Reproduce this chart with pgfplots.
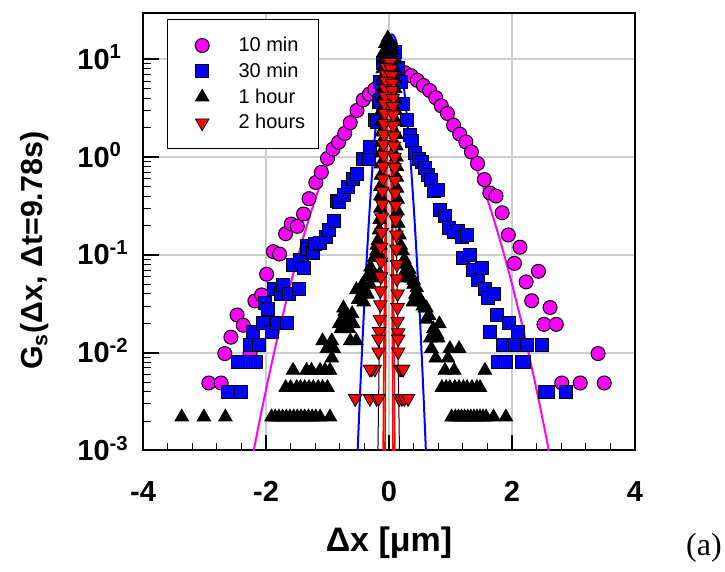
\documentclass[border=0pt]{standalone}
\usepackage{pgfplots}
\pgfplotsset{compat=1.18}
\usepackage{fontspec}
\setmainfont{Liberation Sans}
\newfontfamily\serifpanel{Liberation Serif}

\definecolor{mag}{RGB}{255,0,255}
\definecolor{blu}{RGB}{0,0,255}
\definecolor{rd}{RGB}{255,0,0}
\definecolor{gridgray}{RGB}{205,205,205}

\begin{document}
\begin{tikzpicture}
\useasboundingbox (0,0) rectangle (362.5pt,286pt);
\begin{axis}[
  at={(71.5pt,60.75pt)}, anchor=south west,
  scale only axis, width=246pt, height=218.9pt,
  xmin=-4, xmax=4,
  ymode=log, ymin=1e-3, ymax=30,
  xtick={-4,-2,0,2,4},
  xticklabels={-4,-2,0,2,4},
  minor x tick num=4,
  ytick={1e-3,1e-2,1e-1,1,10},
  yticklabels={10\textsuperscript{-3},10\textsuperscript{-2},10\textsuperscript{-1},10\textsuperscript{0},10\textsuperscript{1}},
  tick pos=left, tick align=inside,
  major tick length=8pt, minor tick length=4pt,
  every major tick/.append style={line width=1pt, black},
  every minor tick/.append style={line width=0.5pt, black},
  axis line style={line width=1pt},
  grid=major,
  major grid style={line width=1pt, color=gridgray},
  xticklabel style={font=\fontsize{14.5}{17}\selectfont\bfseries, anchor=base, yshift=-25.5pt},
  yticklabel style={font=\fontsize{14.5}{17}\selectfont\bfseries, anchor=base west, inner sep=0pt, xshift=-33pt, yshift=-5pt},
  xlabel={Δx [μm]},
  ylabel={G\textsubscript{s}(Δx, Δt=9.78s)},
  xlabel style={font=\fontsize{17}{20}\selectfont\bfseries, at={(axis description cs:0.5,-0.2296)}, anchor=base},
  ylabel style={font=\fontsize{15.2}{18}\selectfont\bfseries, at={(axis description cs:-0.2033,0.456)}, anchor=base, rotate=0},
  legend cell align=left,
  legend style={at={(axis description cs:0.0488,0.9856)}, anchor=north west,
    draw=black, line width=0.5pt, fill=white,
    font=\fontsize{10}{12}\selectfont,
    inner xsep=5pt, inner ysep=8pt, row sep=2.9pt,
    nodes={inner xsep=1.7pt, inner ysep=0pt, text height=8pt, text depth=2pt}},
  legend image code/.code={
    \path[draw=none] (0pt,-4pt) rectangle (28.8pt,4pt);
    \draw[#1] plot coordinates {(12.35pt,0pt)};
  },
]

% 10 min
\addplot[only marks, mark=*, mark size=3.5pt, mark options={fill=mag, draw=black, line width=0.5pt}]
coordinates {
(-2.93,0.0049)(-2.73,0.0049)(-2.67,0.0098)(-2.57,0.0144)(-2.47,0.0243)(-2.37,0.0191)
(-2.26,0.0098)(-2.18,0.0338)(-2.07,0.039)(-1.99,0.0635)(-1.88,0.108)(-1.78,0.102)
(-1.68,0.165)(-1.59,0.207)(-1.49,0.196)(-1.39,0.262)(-1.30,0.376)(-1.19,0.55)
(-1.10,0.70)(-1.00,0.97)(-0.91,1.21)(-0.82,1.42)(-0.72,1.75)(-0.63,2.25)(-0.52,3.0)
(-0.42,3.85)(-0.32,4.4)(-0.23,4.95)(-0.14,5.8)(-0.05,6.4)(0.05,6.9)(0.15,7.4)
(0.26,7.3)(0.36,6.8)(0.46,6.1)(0.56,5.4)(0.66,4.8)(0.76,4.05)(0.85,3.35)(0.95,2.8)
(1.05,2.12)(1.15,1.72)(1.25,1.43)(1.34,1.13)(1.44,0.86)(1.55,0.59)(1.64,0.43)
(1.74,0.40)(1.84,0.27)(1.94,0.16)(2.04,0.082)(2.13,0.12)(2.23,0.053)(2.32,0.034)
(2.43,0.068)(2.52,0.0195)(2.62,0.029)(2.72,0.0195)(2.81,0.0049)(3.11,0.0049)
(3.40,0.0098)(3.50,0.0049)
};
\addlegendentry{10 min}

% 30 min
\addplot[only marks, mark=square*, mark size=3.25pt, mark options={fill=blu, draw=black, line width=0.5pt}]
coordinates {
(-2.61,0.0040)(-2.46,0.0081)(-2.40,0.0040)(-2.30,0.0081)(-2.26,0.0121)(-2.21,0.0162)
(-2.16,0.0081)(-2.11,0.0121)(-2.05,0.0202)(-2.02,0.0324)(-1.96,0.0282)(-1.91,0.0162)
(-1.87,0.0445)(-1.82,0.0202)(-1.76,0.040)(-1.72,0.049)(-1.66,0.0202)(-1.62,0.040)
(-1.56,0.079)(-1.47,0.0445)(-1.45,0.088)(-1.42,0.085)(-1.38,0.073)(-1.33,0.124)
(-1.31,0.115)(-1.23,0.105)(-1.20,0.129)(-1.13,0.131)(-1.02,0.151)(-0.97,0.18)
(-0.89,0.224)(-0.85,0.359)(-0.81,0.345)(-0.73,0.41)(-0.66,0.49)(-0.58,0.60)
(-0.52,0.67)(-0.43,0.96)(-0.32,0.96)(-0.31,1.27)(-0.23,2.38)(-0.19,2.28)(-0.17,3.67)
(-0.15,3.8)(-0.14,5.9)(-0.12,4.8)(-0.09,9.1)(-0.05,10)(0.02,13)(0.10,12)(0.15,8.1)
(0.19,5.9)(0.23,3.5)(0.29,2.42)(0.34,1.67)(0.38,1.46)(0.42,1.09)(0.48,0.96)
(0.53,0.89)(0.58,0.78)(0.64,0.66)(0.69,0.58)(0.73,0.45)(0.79,0.46)(0.83,0.29)
(0.91,0.25)(0.98,0.19)(1.05,0.17)(1.13,0.177)(1.18,0.152)(1.21,0.094)(1.27,0.16)
(1.31,0.100)(1.36,0.070)(1.45,0.056)(1.51,0.073)(1.56,0.0445)(1.61,0.0366)
(1.65,0.0162)(1.70,0.040)(1.75,0.0243)(1.78,0.0081)(1.86,0.0121)(1.90,0.0081)
(1.95,0.0202)(2.05,0.0121)(2.09,0.0162)(2.16,0.0081)(2.20,0.0081)(2.24,0.0121)
(2.48,0.0121)(2.54,0.0040)(2.59,0.0040)(2.88,0.0040)
};
\addlegendentry{30 min}

% 1 hour
\addplot[only marks, mark=triangle*, mark size=3.9pt, mark options={fill=black, draw=black, line width=0.4pt}]
coordinates {
(-3.37,0.0022)(-3.01,0.0022)(-2.66,0.0022)(-1.91,0.0022)(-1.85,0.0022)(-1.79,0.0022)
(-1.73,0.0022)(-1.67,0.0022)(-1.61,0.0022)(-1.55,0.0022)(-1.49,0.0022)(-1.43,0.0022)
(-1.37,0.0022)(-1.31,0.0022)(-1.25,0.0022)(-1.19,0.0022)(-1.12,0.0022)(-0.96,0.0022)
(1.02,0.0022)(1.08,0.0022)(1.13,0.0022)(1.18,0.0022)(1.23,0.0022)(1.28,0.0022)
(1.33,0.0022)(1.38,0.0022)(1.43,0.0022)(1.48,0.0022)(1.53,0.0022)(1.58,0.0022)
(1.70,0.0022)(1.90,0.0022)
(-1.68,0.0044)(-1.60,0.0044)(-1.50,0.0044)(-1.44,0.0044)(-1.37,0.0044)(-1.30,0.0044)
(-1.23,0.0044)(-1.15,0.0044)(-1.08,0.0044)(-1.00,0.0044)
(0.86,0.0044)(0.93,0.0044)(0.99,0.0044)(1.07,0.0044)(1.14,0.0044)(1.21,0.0044)
(1.27,0.0044)(1.35,0.0044)(1.43,0.0044)(1.48,0.0044)
(-1.56,0.0066)(-1.34,0.0066)(-1.26,0.0066)(-1.12,0.0066)(-1.04,0.0066)(-0.96,0.0066)
(0.91,0.0066)(1.06,0.0066)(1.56,0.0066)
(-0.93,0.0088)(0.76,0.0088)(0.96,0.0088)
(-1.01,0.011)(-0.90,0.011)(0.69,0.011)(0.99,0.011)(1.14,0.011)
(-1.08,0.0132)(-0.93,0.0132)(-0.63,0.0132)(-0.53,0.0132)(0.67,0.0141)(0.80,0.0141)
(0.78,0.0154)(-0.78,0.0175)(-0.65,0.0175)(0.72,0.0175)
(-0.81,0.0197)(-0.58,0.0197)(0.82,0.0197)(-0.74,0.022)(-0.63,0.022)(0.61,0.022)
(-0.72,0.0264)(-0.74,0.0286)(0.58,0.0286)(0.61,0.0286)
(-0.68,0.020)(-0.60,0.025)(-0.50,0.035)(0.50,0.036)(0.55,0.030)(0.65,0.024)
(-0.41,0.033)(0.39,0.033)(0.53,0.033)
(-0.45,0.0396)(-0.35,0.0396)(0.43,0.0396)(0.45,0.0396)
(-0.53,0.044)(-0.39,0.044)(0.45,0.046)
(-0.43,0.050)(-0.31,0.050)(0.40,0.050)(0.40,0.055)(-0.35,0.060)
(-0.23,0.058)(0.30,0.058)(0.36,0.058)
(-0.26,0.064)(-0.15,0.064)(0.29,0.064)(0.28,0.071)(0.33,0.071)(-0.30,0.075)
(0.23,0.080)(0.25,0.090)(-0.24,0.094)(-0.13,0.094)(0.22,0.11)(0.18,0.11)
(-0.20,0.125)(-0.14,0.125)
(-0.02,16.5)(-0.06,14.5)(-0.08,12)(-0.09,10)(-0.10,8)(-0.10,6.5)(-0.11,5)(-0.11,4)
(-0.12,3)(-0.12,2.3)(-0.12,1.8)(-0.13,1.4)(-0.13,1.1)(-0.13,0.85)(-0.13,0.65)
(-0.14,0.5)(-0.14,0.4)(-0.14,0.3)(-0.15,0.23)(-0.16,0.18)(-0.18,0.14)(-0.20,0.11)
(0.04,14.5)(0.06,12.4)(0.08,10)(0.09,8)(0.10,6.3)(0.10,5)(0.11,3.9)(0.11,3.0)
(0.12,2.3)(0.12,1.7)(0.12,1.3)(0.12,1.0)(0.13,0.8)(0.13,0.62)(0.13,0.48)(0.14,0.37)
(0.14,0.28)(0.15,0.21)(0.17,0.16)(0.19,0.125)
};
\addlegendentry{1 hour}

% 2 hours
\addplot[only marks, mark=triangle*, mark size=3.9pt, mark options={rotate=180, fill=rd, draw=black, line width=0.4pt}]
coordinates {
(-0.02,9.5)(0.02,9.3)(-0.04,8.3)(0.03,8)(-0.05,7)(0.04,6.8)(-0.05,6)(0.05,5.7)
(-0.06,5)(0.05,4.8)(-0.06,4.2)(0.06,4)(-0.07,3.5)(0.06,3.3)(-0.07,2.8)(0.07,2.7)
(-0.08,2.2)(0.07,2.1)(-0.08,1.7)(0.08,1.65)(-0.09,1.35)(0.08,1.3)(-0.09,1.05)
(0.09,1.0)(-0.10,0.8)(0.09,0.78)(-0.10,0.6)(0.10,0.58)(-0.11,0.45)(0.10,0.43)
(-0.11,0.33)(0.11,0.32)(-0.12,0.24)(0.11,0.23)(-0.12,0.17)(0.12,0.16)(-0.13,0.12)
(0.12,0.115)(-0.13,0.085)(0.13,0.08)(-0.13,0.06)(0.13,0.057)(-0.14,0.043)(0.14,0.04)
(-0.14,0.031)(0.14,0.029)(-0.15,0.022)(0.14,0.021)(-0.16,0.0165)(0.15,0.016)
(-0.17,0.0138)(0.15,0.0138)(-0.17,0.0102)(0.15,0.0102)
(-0.23,0.0068)(-0.28,0.0068)(-0.31,0.0068)(0.18,0.0068)(0.21,0.0068)(0.23,0.0068)
(-0.55,0.0034)(-0.31,0.0034)(-0.20,0.0034)(-0.17,0.0034)(0.17,0.0034)(0.21,0.0034)
(0.25,0.0034)(0.31,0.0034)
};
\addlegendentry{2 hours}

% Gaussian fits
\addplot[mag, line width=1pt, smooth, forget plot] coordinates {
(-2.3,4.63e-4)(-2.2,9.94e-4)(-2.1,2.07e-3)(-2.0,4.17e-3)(-1.9,8.15e-3)(-1.8,1.545e-2)
(-1.7,2.83e-2)(-1.6,5.04e-2)(-1.5,8.69e-2)(-1.4,0.1453)(-1.3,0.2356)(-1.2,0.370)
(-1.1,0.564)(-1.0,0.832)(-0.9,1.190)(-0.8,1.651)(-0.7,2.220)(-0.6,2.893)(-0.5,3.655)
(-0.4,4.474)(-0.3,5.313)(-0.2,6.111)(-0.1,6.814)(0.0,7.366)(0.1,7.719)(0.2,7.84)
(0.3,7.719)(0.4,7.366)(0.5,6.814)(0.6,6.111)(0.7,5.313)(0.8,4.474)(0.9,3.655)
(1.0,2.893)(1.1,2.220)(1.2,1.651)(1.3,1.190)(1.4,0.832)(1.5,0.564)(1.6,0.370)
(1.7,0.2356)(1.8,0.1453)(1.9,8.69e-2)(2.0,5.04e-2)(2.1,2.83e-2)(2.2,1.545e-2)
(2.3,8.15e-3)(2.4,4.17e-3)(2.5,2.07e-3)(2.6,9.94e-4)(2.7,4.63e-4)
};
\addplot[blu, line width=1pt, smooth, forget plot] coordinates {
(-0.555,1.89e-4)(-0.53,4.8e-4)(-0.505,1.18e-3)(-0.48,2.77e-3)(-0.455,6.27e-3)
(-0.43,1.36e-2)(-0.405,2.85e-2)(-0.38,5.72e-2)(-0.355,0.110)(-0.33,0.204)
(-0.305,0.364)(-0.28,0.623)(-0.255,1.025)(-0.23,1.62)(-0.205,2.46)(-0.18,3.59)
(-0.155,5.03)(-0.13,6.79)(-0.105,8.79)(-0.08,10.94)(-0.055,13.09)(-0.03,15.05)
(-0.005,16.62)(0.02,17.65)(0.045,18)(0.07,17.65)(0.095,16.62)(0.12,15.05)
(0.145,13.09)(0.17,10.94)(0.195,8.79)(0.22,6.79)(0.245,5.03)(0.27,3.59)(0.295,2.46)
(0.32,1.62)(0.345,1.025)(0.37,0.623)(0.395,0.364)(0.42,0.204)(0.445,0.110)
(0.47,5.72e-2)(0.495,2.85e-2)(0.52,1.36e-2)(0.545,6.27e-3)(0.57,2.77e-3)
(0.595,1.18e-3)(0.62,4.8e-4)(0.645,1.89e-4)
};
\addplot[black, line width=0.5pt, smooth, forget plot] coordinates {
(-0.1925,2.38e-4)(-0.1675,3.79e-3)(-0.1425,0.0406)(-0.1175,0.293)(-0.0925,1.42)
(-0.0675,4.66)(-0.0425,10.26)(-0.0175,15.23)(-0.005,16)(0.0075,15.23)(0.0325,10.26)
(0.0575,4.66)(0.0825,1.42)(0.1075,0.293)(0.1325,0.0406)(0.1575,3.79e-3)(0.1825,2.38e-4)
};
\addplot[rd, line width=0.8pt, smooth, forget plot] coordinates {
(-0.07,2.3e-4)(-0.06,3.88e-3)(-0.05,0.0421)(-0.04,0.296)(-0.03,1.35)(-0.02,3.99)
(-0.01,7.65)(0,9.5)(0.01,7.65)(0.02,3.99)(0.03,1.35)(0.04,0.296)(0.05,0.0421)
(0.06,3.88e-3)(0.07,2.3e-4)
};
\addplot[rd, line width=0.8pt, smooth, forget plot] coordinates {
(-0.10,3.7e-4)(-0.09,2.56e-3)(-0.08,0.01435)(-0.07,0.0658)(-0.06,0.246)(-0.05,0.751)
(-0.04,1.87)(-0.03,3.81)(-0.02,6.33)(-0.01,8.58)(0,9.5)(0.01,8.58)(0.02,6.33)
(0.03,3.81)(0.04,1.87)(0.05,0.751)(0.06,0.246)(0.07,0.0658)(0.08,0.01435)
(0.09,2.56e-3)(0.10,3.7e-4)
};
\end{axis}
\node[font=\serifpanel\fontsize{16}{19}\selectfont, anchor=base] at (352pt,8pt) {(a)};
\end{tikzpicture}
\end{document}
